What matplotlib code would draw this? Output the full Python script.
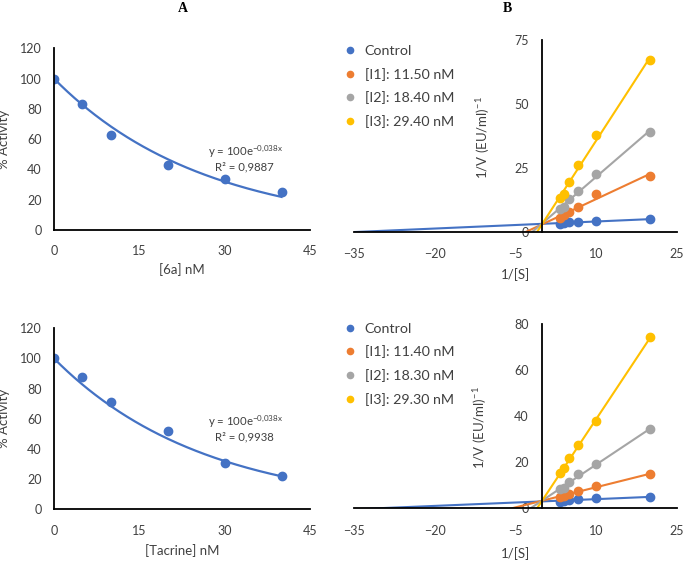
import matplotlib
matplotlib.use('Agg')
import matplotlib.pyplot as plt
import numpy as np
from matplotlib.lines import Line2D

plt.rcParams['font.family'] = ['Lato', 'DejaVu Sans']
plt.rcParams['font.size'] = 9
plt.rcParams['mathtext.fontset'] = 'custom'
plt.rcParams['mathtext.rm'] = 'Lato'
plt.rcParams['mathtext.default'] = 'regular'

# panel A: % activity vs inhibitor concentration
conc = [0, 5, 10, 20, 30, 40]
act_6a = [100, 83, 63, 43, 34, 25]
act_tacrine = [100, 88, 71, 52, 31, 22]
fit_a, fit_b = 100, -0.038          # y = 100e^(-0,038x), shown on the chart
r2_6a = '0,9887'
r2_tacrine = '0,9938'

# panel B: Lineweaver-Burk, 1/[S] vs 1/V
inv_s = [3.33, 4, 5, 6.67, 10, 20]
lb_top = {
    'Control': [2.9, 3.6, 3.7, 3.8, 4.2, 4.8],
    '[I1]: 11.50 nM': [5.5, 6.5, 7.8, 9.5, 14.7, 21.9],
    '[I2]: 18.40 nM': [8.8, 9.8, 12.7, 16.0, 22.6, 39.1],
    '[I3]: 29.40 nM': [13.1, 14.6, 19.6, 26.1, 37.8, 67.2],
}
lb_bottom = {
    'Control': [2.9, 3.4, 3.6, 3.9, 4.3, 4.8],
    '[I1]: 11.40 nM': [5.0, 5.5, 6.2, 7.5, 9.7, 14.8],
    '[I2]: 18.30 nM': [8.3, 8.7, 11.6, 14.8, 19.4, 34.3],
    '[I3]: 29.30 nM': [15.2, 17.4, 21.7, 27.4, 38.1, 74.3],
}
colors = ['#4472C4', '#ED7D31', '#A5A5A5', '#FFC000']
blue = '#4472C4'
txt = '#404040'

fig = plt.figure(figsize=(6.85, 5.62), dpi=100)

ax_tl = fig.add_axes([0.0788, 0.5907, 0.3737, 0.3233])
ax_bl = fig.add_axes([0.0788, 0.0938, 0.3737, 0.3221])
ax_tr = fig.add_axes([0.5168, 0.5877, 0.4715, 0.3411])
ax_br = fig.add_axes([0.5168, 0.0955, 0.4715, 0.3274])


def activity_panel(ax, y, r2, xlabel, eq_y, r2_y, xlab_pos):
    xf = np.linspace(0, 40, 200)
    ax.plot(xf, fit_a * np.exp(fit_b * xf), color=blue, lw=1.6)
    ax.plot(conc, y, 'o', color=blue, ms=6)
    ax.set_xlim(0, 45)
    ax.set_ylim(0, 120)
    ax.set_xticks([0, 15, 30, 45])
    ax.set_yticks(range(0, 121, 20))
    for s in ['top', 'right']:
        ax.spines[s].set_visible(False)
    for s in ['left', 'bottom']:
        ax.spines[s].set_linewidth(1.3)
    ax.tick_params(length=0, labelsize=9, colors=txt)
    ax.tick_params(axis='x', pad=11)
    ax.tick_params(axis='y', pad=9)
    ax.set_ylabel('% Activity', fontsize=9.5, color=txt)
    ax.yaxis.set_label_coords(-0.17, 0.5)
    ax.set_xlabel(xlabel, fontsize=9.5, color=txt)
    ax.xaxis.set_label_coords(0.5, xlab_pos)
    ax.text(33.6, eq_y, 'y = 100e$^{-0{,}038x}$', ha='center', va='center',
            fontsize=8.2, color=txt)
    ax.text(33.4, r2_y, 'R² = ' + r2, ha='center', va='center',
            fontsize=8.2, color=txt)


def lb_panel(ax, series, ymax, yticks, ylab_coords, xlab_pos, legend_anchor):
    xf = np.array([-35, max(inv_s)])
    handles = []
    for (name, vals), c in zip(series.items(), colors):
        m, b = np.polyfit(inv_s, vals, 1)
        ax.plot(xf, m * xf + b, color=c, lw=1.5)
        ax.plot(inv_s, vals, 'o', color=c, ms=6)
        handles.append(Line2D([], [], ls='none', marker='o', color=c, ms=4.5, label=name))
    ax.set_xlim(-35, 25)
    ax.set_ylim(0, ymax)
    ax.set_xticks([-35, -20, -5, 10, 25])
    ax.set_yticks(yticks)
    for s in ['top', 'right']:
        ax.spines[s].set_visible(False)
    ax.spines['left'].set_position(('data', 0))
    for s in ['left', 'bottom']:
        ax.spines[s].set_linewidth(1.3)
    ax.tick_params(length=0, labelsize=9, colors=txt)
    ax.tick_params(axis='x', pad=12)
    ax.tick_params(axis='y', pad=10)
    ax.set_ylabel('1/V (EU/ml)$^{-1}$', fontsize=9.5, color=txt)
    ax.yaxis.set_label_coords(*ylab_coords)
    ax.set_xlabel('1/[S]', fontsize=9.5, color=txt)
    ax.xaxis.set_label_coords(0.5, xlab_pos)
    leg = ax.legend(handles=handles, loc='upper left', bbox_to_anchor=legend_anchor,
                    bbox_transform=fig.transFigure, frameon=False, borderpad=0,
                    handlelength=0.7, handletextpad=0.7, labelspacing=0.75,
                    borderaxespad=0, fontsize=10.3)
    for t in leg.get_texts():
        t.set_color(txt)


activity_panel(ax_tl, act_6a, r2_6a, '[6a] nM', 51.5, 41.6, -0.18)
activity_panel(ax_bl, act_tacrine, r2_tacrine, '[Tacrine] nM', 57.9, 48.0, -0.195)

lb_panel(ax_tr, lb_top, 75, [0, 25, 50, 75], (0.427, 0.49), -0.19, (0.503, 0.920))
lb_panel(ax_br, lb_bottom, 80, [0, 20, 40, 60, 80], (0.418, 0.44), -0.21, (0.503, 0.426))

fig.text(183 / 685, 1 - 8 / 562, 'A', ha='center', va='center', fontsize=10,
         fontweight='bold', family='Liberation Serif')
fig.text(507 / 685, 1 - 8 / 562, 'B', ha='center', va='center', fontsize=10,
         fontweight='bold', family='Liberation Serif')

fig.savefig('out.png', dpi=100)
